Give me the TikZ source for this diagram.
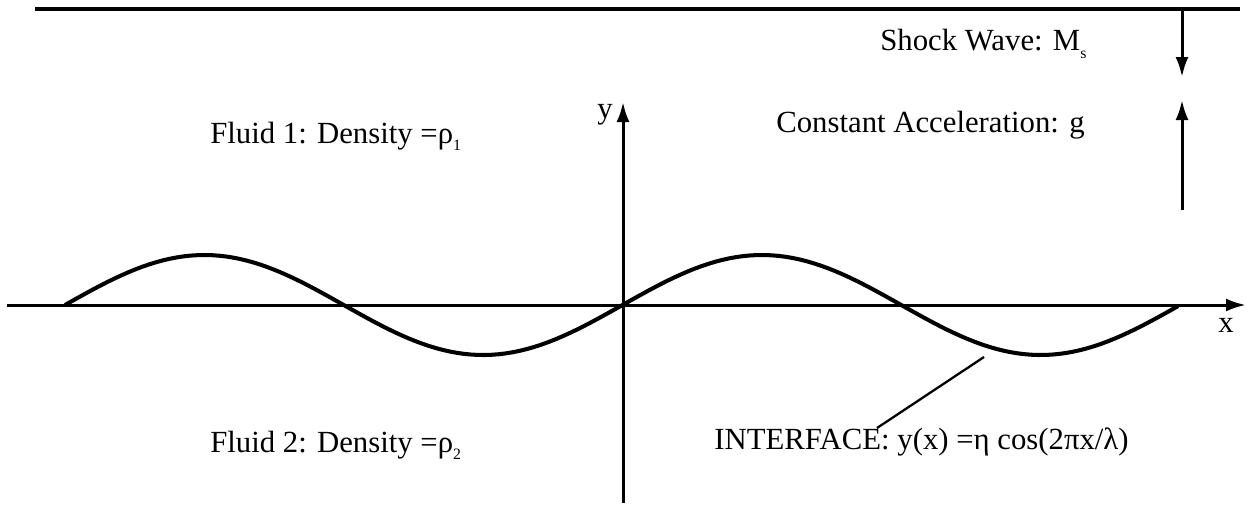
\documentclass[tikz,border=0pt]{standalone}
\usepackage{fontspec}
\setmainfont{Liberation Serif}
\usetikzlibrary{arrows.meta}

\begin{document}
\begin{tikzpicture}[x=0.02cm,y=-0.02cm,
    lbl/.style={font=\fontsize{17.5}{20}\selectfont,inner sep=0pt,anchor=base west},
    axis/.style={line width=1.7pt,-{Latex[length=0.4cm,width=0.26cm]}},
    wave/.style={line width=2.3pt}]
    \useasboundingbox (0,0) rectangle (1251,505);

    % shock front and axes
    \coordinate (shockL) at (35,9);
    \coordinate (shockR) at (1240,9);
    \coordinate (xL) at (7,305);
    \coordinate (xR) at (1246,305);
    \coordinate (yB) at (623,503);
    \coordinate (yT) at (623,102);
    \draw[line width=2pt] (shockL) -- (shockR);
    \draw[axis] (xL) -- (xR);
    \draw[axis] (yB) -- (yT);
    \node[lbl] (xlab) at (1218,332) {x};
    \node[lbl] (ylab) at (597,118) {y};

    % shock and acceleration arrows
    \coordinate (sTop) at (1182,9);
    \coordinate (sTip) at (1182,77);
    \coordinate (gBot) at (1182,210);
    \coordinate (gTip) at (1182,100);
    \draw[axis] (sTop) -- (sTip);
    \draw[axis] (gBot) -- (gTip);
    \node[lbl] (shock) at (880,50) {Shock Wave: M\raisebox{-0.6ex}{\small s}};
    \node[lbl] (accel) at (776,132) {Constant Acceleration: g};

    % interface
    \draw[wave] plot[domain=65:1178,samples=160] (\x,{305-50*sin(0.64574*(\x-622.5))});
    \node[lbl] (fluidA) at (210,143) {Fluid 1: Density =ρ\raisebox{-0.55ex}{\small 1}};
    \node[lbl] (fluidB) at (210,452) {Fluid 2: Density =ρ\raisebox{-0.55ex}{\small 2}};
    \node[lbl] (intf) at (714,449) {INTERFACE: y(x) =η cos(2πx/λ)};
    \coordinate (tagA) at (877,428);
    \coordinate (tagB) at (984,357);
    \draw[line width=1.3pt] (tagA) -- (tagB);
\end{tikzpicture}
\end{document}
